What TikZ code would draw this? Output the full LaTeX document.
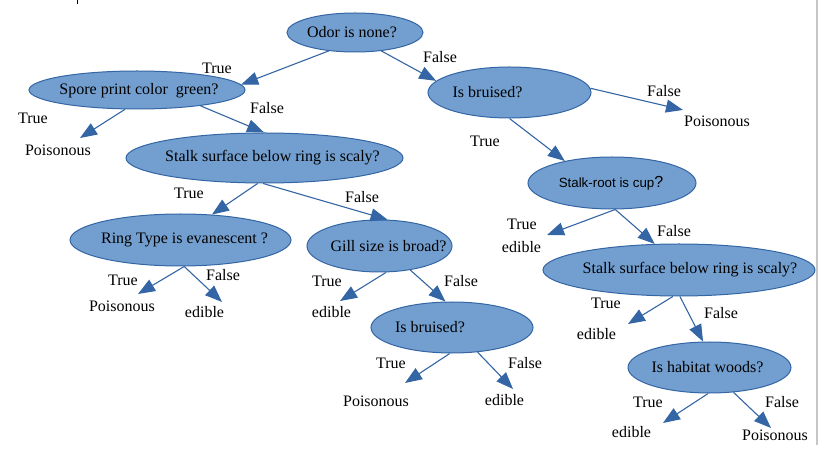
\documentclass[tikz,border=0pt]{standalone}
\usepackage{fontspec}
\setmainfont{Liberation Serif}
\setsansfont{Liberation Sans}
\usetikzlibrary{shapes.geometric,arrows.meta}

\definecolor{nodefill}{HTML}{729FCF}
\definecolor{nodeline}{HTML}{3465A4}

\tikzset{
	question/.style={ellipse, draw=nodeline, fill=nodefill, line width=1bp, inner sep=0pt},
	qtext/.style={inner sep=0pt, font=\fontsize{16bp}{19bp}\selectfont},
	answer/.style={inner sep=1bp, font=\fontsize{16bp}{19bp}\selectfont},
	branch/.style={inner sep=1bp, font=\fontsize{16bp}{19bp}\selectfont},
	edge/.style={draw=nodeline, line width=1.1bp, -{Triangle[length=17bp,width=13bp]}}
}

\begin{document}
\begin{tikzpicture}[x=1bp,y=-1bp]
			\useasboundingbox (0,0) rectangle (818,465);
			\draw[line width=1bp] (77.5,0) -- (77.5,4);
			\draw[gray!45, line width=2bp] (816.5,0) -- (816.5,445);

			% Draw the questions
			\node[question, minimum width=136bp, minimum height=39bp, label={[qtext, xshift=-3bp]center:Odor is none?}] (root) at (355,32.5) {};
			\node[question, minimum width=216bp, minimum height=38bp, label={[qtext, xshift=2bp, yshift=-1bp]center:Spore print color\ \ green?}] (spore) at (137,90) {};
			\node[question, minimum width=163bp, minimum height=51bp, label={[qtext, xshift=-22bp]center:Is bruised?}] (bruisedR) at (509.5,92.5) {};
			\node[question, minimum width=277bp, minimum height=50bp, label={[qtext, xshift=8bp]center:Stalk surface below ring is scaly?}] (stalkL) at (264.5,158) {};
			\node[question, minimum width=221bp, minimum height=52bp, label={[qtext, xshift=4bp]center:Ring Type is evanescent ?}] (ring) at (180.5,240) {};
			\node[question, minimum width=145bp, minimum height=52bp, label={[qtext, xshift=9bp]center:Gill size is broad?}] (gill) at (379.5,246) {};
			\node[question, minimum width=162bp, minimum height=51bp, label={[qtext, xshift=-22bp]center:Is bruised?}] (bruisedM) at (452,327.5) {};
			\node[question, minimum width=168bp, minimum height=52bp, label={[qtext, xshift=-1bp]center:{\sffamily\fontsize{13.33bp}{16bp}\selectfont Stalk-root is cup\fontsize{16bp}{19bp}\selectfont ?}}] (stalkroot) at (612,183) {};
			\node[question, minimum width=272bp, minimum height=52bp, label={[qtext, xshift=11bp]center:Stalk surface below ring is scaly?}] (stalkR) at (679,270) {};
			\node[question, minimum width=163bp, minimum height=51bp, label={[qtext, xshift=-2bp]center:Is habitat woods?}] (habitat) at (709.5,367.5) {};

			% Draw the leaves
			\node[answer] (poisA) at (58,150) {Poisonous};
			\node[answer] (poisB) at (717,121) {Poisonous};
			\node[answer] (poisC) at (122,306) {Poisonous};
			\node[answer] (edibA) at (204.5,312) {edible};
			\node[answer] (edibB) at (331.5,312) {edible};
			\node[answer] (poisD) at (376,401) {Poisonous};
			\node[answer] (edibC) at (504.5,400) {edible};
			\node[answer] (edibD) at (521.5,247) {edible};
			\node[answer] (edibE) at (596.5,334) {edible};
			\node[answer] (edibF) at (631.5,432) {edible};
			\node[answer] (poisE) at (775,435) {Poisonous};

			% Draw the branch labels
			\node[branch] (tRoot) at (217,68) {True};
			\node[branch] (fRoot) at (440,57) {False};
			\node[branch] (tSpore) at (33,118) {True};
			\node[branch] (fSpore) at (267,108) {False};
			\node[branch] (fBruisedR) at (664,91) {False};
			\node[branch] (tBruisedR) at (485,141) {True};
			\node[branch] (tStalkL) at (189,193) {True};
			\node[branch] (fStalkL) at (362,197) {False};
			\node[branch] (tRing) at (123,280) {True};
			\node[branch] (fRing) at (223,275) {False};
			\node[branch] (tGill) at (327,281) {True};
			\node[branch] (fGill) at (461,281) {False};
			\node[branch] (tBruisedM) at (391,363) {True};
			\node[branch] (fBruisedM) at (525,363) {False};
			\node[branch] (tStalkroot) at (522,224) {True};
			\node[branch] (fStalkroot) at (674,231) {False};
			\node[branch] (tStalkR) at (606,303) {True};
			\node[branch] (fStalkR) at (721,313) {False};
			\node[branch] (tHabitat) at (648,402) {True};
			\node[branch] (fHabitat) at (782,402) {False};

			% Draw the arrows
			\draw[edge] (root.215) -- (spore.3);
			\draw[edge] (root.325) -- (bruisedR.171);
			\draw[edge] (spore.238) -- ([shift={(22,-12)}]poisA.center);
			\draw[edge] (spore.346) -- (stalkL.91);
			\draw[edge] (bruisedR.3) -- ([shift={(-34,-11)}]poisB.center);
			\draw[edge] (bruisedR.270) -- (stalkroot.155);
			\draw[edge] (stalkL.255) -- (ring.39);
			\draw[edge] (stalkL.267) -- (gill.73);
			\draw[edge] (ring.278) -- ([shift={(16,-12)}]poisC.center);
			\draw[edge] (ring.278) -- ([shift={(17.5,-10)}]edibA.center);
			\draw[edge] (gill.284) -- ([shift={(8.5,-11)}]edibB.center);
			\draw[edge] (gill.322) -- (bruisedM.104);
			\draw[edge] (bruisedM.265) -- ([shift={(29,-18)}]poisD.center);
			\draw[edge] (bruisedM.316) -- ([shift={(8.5,-11)}]edibC.center);
			\draw[edge] (stalkroot.277) -- ([shift={(25.5,-12)}]edibD.center);
			\draw[edge] (stalkroot.277) -- (stalkR.133);
			\draw[edge] (stalkR.257) -- ([shift={(31.5,-10)}]edibE.center);
			\draw[edge] (stalkR.272) -- (habitat.104);
			\draw[edge] (habitat.267) -- ([shift={(31.5,-9)}]edibF.center);
			\draw[edge] (habitat.314) -- ([shift={(-4,-7)}]poisE.center);
		\end{tikzpicture}
\end{document}
